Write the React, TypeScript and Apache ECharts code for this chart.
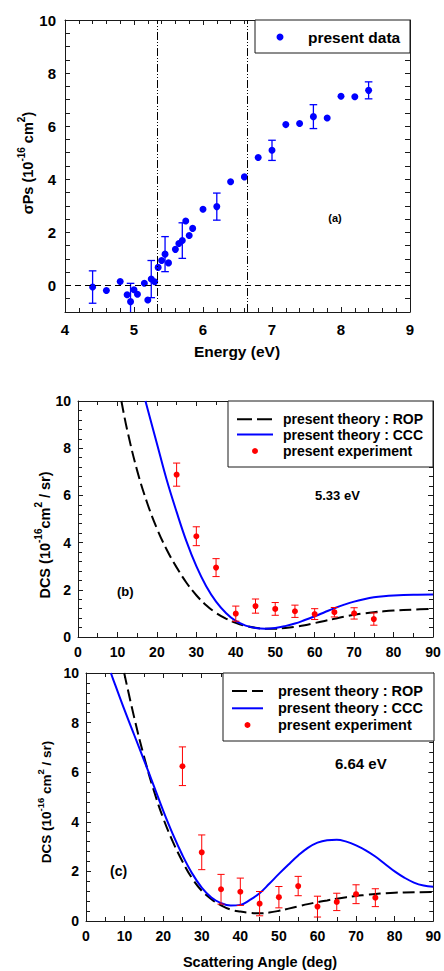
import React, { useEffect, useRef } from "react";
import * as echarts from "echarts";

const FONT = "'Liberation Sans', Arial, Helvetica, sans-serif";

// ---------- Panel (a): Ps formation cross section ----------
const energyA = [4.4, 4.6, 4.8, 4.9, 4.95, 5.0, 5.05, 5.15, 5.2, 5.25, 5.3, 5.35, 5.4, 5.45, 5.5, 5.6, 5.65, 5.7, 5.75, 5.8, 5.85, 6.0, 6.2, 6.4, 6.6, 6.8, 7.0, 7.2, 7.4, 7.6, 7.8, 8.0, 8.2, 8.4];
const sigmaA = [-0.06, -0.19, 0.15, -0.35, -0.61, -0.16, -0.33, 0.08, -0.55, 0.24, 0.14, 0.68, 0.94, 1.18, 0.85, 1.36, 1.58, 1.69, 2.43, 1.88, 2.15, 2.87, 2.97, 3.91, 4.09, 4.82, 5.09, 6.06, 6.1, 6.36, 6.31, 7.13, 7.11, 7.35];
const errA = [0.61, 0, 0, 0, 0.69, 0, 0, 0, 0, 0.7, 0, 0, 0, 0.66, 0, 0, 0, 0.67, 0, 0, 0, 0, 0.51, 0, 0, 0, 0.38, 0, 0, 0.45, 0, 0, 0, 0.32];
const markEnergies = [5.33, 6.64];

// ---------- Panels (b) and (c): DCS ----------
const anglesExp = [25, 30, 35, 40, 45, 50, 55, 60, 65, 70, 75];
const dcsB = [6.88, 4.27, 2.94, 0.99, 1.31, 1.19, 1.09, 0.97, 1.05, 1.0, 0.76];
const errB = [0.49, 0.4, 0.38, 0.32, 0.3, 0.27, 0.26, 0.23, 0.2, 0.24, 0.26];
const dcsC = [6.24, 2.77, 1.28, 1.18, 0.7, 0.96, 1.41, 0.58, 0.77, 1.08, 0.94];
const errC = [0.78, 0.7, 0.6, 0.55, 0.49, 0.43, 0.39, 0.42, 0.35, 0.38, 0.36];

const ropBAngle = [11.0, 12.5, 15, 17.5, 20, 22.5, 25, 27.5, 30, 32.5, 35, 37.5, 40, 42.5, 45, 47.5, 50, 52.5, 55, 57.5, 60, 62.5, 65, 67.5, 70, 72.5, 75, 77.5, 80, 85, 90];
const ropBValue = [10.0, 8.75, 7.05, 5.7, 4.6, 3.7, 2.95, 2.3, 1.77, 1.35, 1.02, 0.78, 0.6, 0.47, 0.39, 0.35, 0.35, 0.38, 0.43, 0.5, 0.59, 0.68, 0.77, 0.86, 0.94, 1.0, 1.05, 1.09, 1.12, 1.16, 1.19];
const cccBAngle = [17.1, 20, 22.5, 25, 27.5, 30, 32.5, 35, 37.5, 40, 42.5, 45, 47.5, 50, 52.5, 55, 57.5, 60, 62.5, 65, 67.5, 70, 72.5, 75, 77.5, 80, 85, 90];
const cccBValue = [10.0, 8.2, 6.65, 5.3, 4.05, 3.0, 2.15, 1.5, 1.02, 0.68, 0.48, 0.38, 0.35, 0.38, 0.46, 0.57, 0.72, 0.88, 1.05, 1.22, 1.37, 1.5, 1.6, 1.68, 1.73, 1.76, 1.79, 1.8];

const ropCAngle = [9.9, 12.5, 15, 17.5, 20, 22.5, 25, 27.5, 30, 32.5, 35, 37.5, 40, 42.5, 45, 47.5, 50, 52.5, 55, 57.5, 60, 62.5, 65, 67.5, 70, 72.5, 75, 77.5, 80, 85, 90];
const ropCValue = [10.0, 8.2, 6.65, 5.3, 4.15, 3.2, 2.4, 1.72, 1.22, 0.88, 0.63, 0.46, 0.38, 0.33, 0.31, 0.34, 0.41, 0.5, 0.59, 0.68, 0.76, 0.83, 0.9, 0.96, 1.01, 1.05, 1.09, 1.12, 1.14, 1.16, 1.17];
const cccCAngle = [6.45, 7.5, 10, 12.5, 15, 17.5, 20, 22.5, 25, 27.5, 30, 32.5, 35, 37.5, 40, 42.5, 45, 47.5, 50, 52.5, 55, 57.5, 60, 62.5, 65, 67.5, 70, 72.5, 75, 77.5, 80, 82.5, 85, 87.5, 90];
const cccCValue = [10.0, 9.55, 8.5, 7.5, 6.5, 5.48, 4.45, 3.5, 2.65, 1.92, 1.35, 0.95, 0.72, 0.62, 0.65, 0.85, 1.12, 1.5, 1.9, 2.28, 2.64, 2.95, 3.16, 3.26, 3.28, 3.2, 3.05, 2.85, 2.6, 2.3, 2.0, 1.75, 1.55, 1.43, 1.38];

const legendLabels = ["present theory : ROP", "present theory : CCC", "present experiment"];

const AXIS_COLOR = "#1a1a1a";
const BLUE = "#0000ff";
const RED = "#ff0000";

function zip(xs: number[], ys: number[]) {
  return xs.map((x, i) => [x, ys[i]]);
}

function errorSeries(xs: number[], ys: number[], es: number[], idx: number, color: string, width: number, half: number) {
  return {
    type: "custom",
    xAxisIndex: idx,
    yAxisIndex: idx,
    clip: true,
    silent: true,
    z: 3,
    encode: { x: 0, y: 1 },
    data: xs.map((x, i) => [x, ys[i], es[i]]).filter((d) => d[2] > 0),
    renderItem: (_p: any, api: any) => {
      const x = api.value(0);
      const y = api.value(1);
      const e = api.value(2);
      const hi = api.coord([x, y + e]);
      const lo = api.coord([x, y - e]);
      const st = { stroke: color, lineWidth: width };
      return {
        type: "group",
        children: [
          { type: "line", shape: { x1: hi[0], y1: hi[1], x2: lo[0], y2: lo[1] }, style: st },
          { type: "line", shape: { x1: hi[0] - half, y1: hi[1], x2: hi[0] + half, y2: hi[1] }, style: st },
          { type: "line", shape: { x1: lo[0] - half, y1: lo[1], x2: lo[0] + half, y2: lo[1] }, style: st },
        ],
      };
    },
  };
}

function makeAxis(
  gridIndex: number,
  position: string,
  min: number,
  max: number,
  interval: number,
  minorSplit: number,
  label: any
) {
  return {
    type: "value",
    gridIndex,
    position,
    min,
    max,
    interval,
    axisLine: { show: true, onZero: false, lineStyle: { color: AXIS_COLOR, width: 1 } },
    axisTick: { show: true, inside: true, length: 5, lineStyle: { color: AXIS_COLOR, width: 1 } },
    minorTick: { show: minorSplit > 0, splitNumber: minorSplit || 5, length: 4, lineStyle: { color: AXIS_COLOR, width: 1 } },
    splitLine: { show: false },
    minorSplitLine: { show: false },
    axisLabel: label
      ? { show: true, color: "#000", fontFamily: FONT, fontWeight: "bold", ...label }
      : { show: false },
  };
}

function supTitle(parts: [string, boolean][], fs: number, sfs: number) {
  const text = parts.map(([t, s]) => `{${s ? "s" : "n"}|${t}}`).join("");
  return {
    text,
    rich: {
      n: { fontSize: fs, fontWeight: "bold", fontFamily: FONT, fill: "#000", lineHeight: fs + 8 },
      s: { fontSize: sfs, fontWeight: "bold", fontFamily: FONT, fill: "#000", lineHeight: sfs, verticalAlign: "top" },
    },
    align: "center",
    verticalAlign: "middle",
  };
}

function txt(x: number, y: number, text: string, fs: number, align = "left") {
  return {
    type: "text",
    x,
    y,
    z: 20,
    style: { text, fontSize: fs, fontWeight: "bold", fontFamily: FONT, fill: "#000", align, verticalAlign: "middle" },
  };
}

function legendBox(x: number, y: number, w: number, h: number, rows: number[], lx1: number, lx2: number, tx: number, fs: number) {
  return [
    { type: "rect", z: 15, shape: { x, y, width: w, height: h }, style: { fill: "#fff", stroke: AXIS_COLOR, lineWidth: 1 } },
    { type: "line", z: 16, shape: { x1: lx1, y1: rows[0], x2: lx2, y2: rows[0] }, style: { stroke: "#000", lineWidth: 2, lineDash: [15, 5] } },
    { type: "line", z: 16, shape: { x1: lx1, y1: rows[1], x2: lx2, y2: rows[1] }, style: { stroke: BLUE, lineWidth: 2 } },
    { type: "circle", z: 16, shape: { cx: (lx1 + lx2) / 2, cy: rows[2], r: 3 }, style: { fill: RED } },
    txt(tx, rows[0], legendLabels[0], fs),
    txt(tx, rows[1], legendLabels[1], fs),
    txt(tx, rows[2], legendLabels[2], fs),
  ];
}

function curve(idx: number, xs: number[], ys: number[], color: string, dashed: boolean) {
  return {
    type: "line",
    xAxisIndex: idx,
    yAxisIndex: idx,
    data: zip(xs, ys),
    symbol: "none",
    smooth: 0.4,
    clip: true,
    silent: true,
    z: 2,
    lineStyle: { color, width: 2, type: dashed ? [12, 5] : "solid" },
  };
}

function dots(idx: number, xs: number[], ys: number[], color: string, size: number) {
  return {
    type: "scatter",
    xAxisIndex: idx,
    yAxisIndex: idx,
    data: zip(xs, ys),
    symbolSize: size,
    itemStyle: { color, opacity: 1 },
    z: 4,
    silent: true,
  };
}

export default function App() {
  const ref = useRef<HTMLDivElement>(null);

  useEffect(() => {
    if (!ref.current) return;
    const chart = echarts.init(ref.current, undefined, { renderer: "svg" });

    const labelA = { fontSize: 15 };
    const labelDcs = { fontSize: 14 };
    const isEven = (v: number) => {
      const r = Math.round(v * 10) / 10;
      return r >= 0 && Math.abs(r % 2) < 1e-6 ? String(r) : "";
    };

    const option: any = {
      animation: false,
      backgroundColor: "#fff",
      grid: [
        { left: 65, top: 20, width: 345, height: 292 },
        { left: 78, top: 401, width: 355, height: 236 },
        { left: 86, top: 673, width: 348, height: 248 },
      ],
      xAxis: [
        makeAxis(0, "bottom", 4, 9, 1, 5, { ...labelA, margin: 10 }),
        makeAxis(1, "bottom", 0, 90, 10, 2, { ...labelDcs, margin: 8 }),
        makeAxis(2, "bottom", 0, 90, 10, 2, { ...labelDcs, margin: 8 }),
        makeAxis(0, "top", 4, 9, 1, 5, null),
        makeAxis(1, "top", 0, 90, 10, 2, null),
        makeAxis(2, "top", 0, 90, 10, 2, null),
      ],
      yAxis: [
        makeAxis(0, "left", -1, 10, 0.5, 0, { ...labelA, margin: 9, formatter: isEven }),
        makeAxis(1, "left", 0, 10, 2, 5, { ...labelDcs, margin: 7 }),
        makeAxis(2, "left", 0, 10, 2, 5, { ...labelDcs, margin: 7 }),
        makeAxis(0, "right", -1, 10, 0.5, 0, null),
        makeAxis(1, "right", 0, 10, 2, 5, null),
        makeAxis(2, "right", 0, 10, 2, 5, null),
      ],
      series: [
        // (a)
        errorSeries(energyA, sigmaA, errA, 0, BLUE, 1.3, 3.8),
        {
          ...dots(0, energyA, sigmaA, BLUE, 7),
          markLine: {
            silent: true,
            symbol: "none",
            label: { show: false },
            data: [
              { yAxis: 0, lineStyle: { type: [6, 4], color: "#000", width: 1 } },
              ...markEnergies.map((e) => ({ xAxis: e, lineStyle: { type: [8, 2, 1, 2, 1, 2], color: "#000", width: 1 } })),
            ],
          },
        },
        // (b)
        curve(1, ropBAngle, ropBValue, "#000", true),
        curve(1, cccBAngle, cccBValue, BLUE, false),
        errorSeries(anglesExp, dcsB, errB, 1, RED, 1, 3.6),
        dots(1, anglesExp, dcsB, RED, 6),
        // (c)
        curve(2, ropCAngle, ropCValue, "#000", true),
        curve(2, cccCAngle, cccCValue, BLUE, false),
        errorSeries(anglesExp, dcsC, errC, 2, RED, 1, 3.6),
        dots(2, anglesExp, dcsC, RED, 6),
      ],
      graphic: [
        // panel (a)
        {
          type: "text",
          x: 28,
          y: 163,
          rotation: Math.PI / 2,
          style: supTitle([["σPs (10", false], ["-16", true], [" cm", false], ["2", true], [")", false]], 14.5, 10),
        },
        txt(237, 351, "Energy (eV)", 15.5, "center"),
        { type: "rect", z: 15, shape: { x: 255, y: 20, width: 155, height: 33 }, style: { fill: "#fff", stroke: AXIS_COLOR, lineWidth: 1 } },
        { type: "circle", z: 16, shape: { cx: 280, cy: 37, r: 3.5 }, style: { fill: BLUE } },
        txt(308, 37, "present data", 15.5),
        txt(335, 218, "(a)", 11, "center"),
        // panel (b)
        ...legendBox(228, 401, 205, 66, [419.3, 434.5, 451], 237, 273, 283, 14),
        txt(315, 495, "5.33 eV", 13),
        txt(117, 591, "(b)", 13),
        {
          type: "text",
          x: 45,
          y: 535,
          rotation: Math.PI / 2,
          style: supTitle([["DCS (10", false], ["-16", true], ["cm", false], ["2", true], [" / sr)", false]], 14.5, 10),
        },
        // panel (c)
        ...legendBox(223, 673, 211, 68, [691, 708.3, 725], 232, 263, 278, 14.5),
        txt(335, 763, "6.64 eV", 15),
        txt(110, 871, "(c)", 14),
        {
          type: "text",
          x: 46,
          y: 802,
          rotation: Math.PI / 2,
          style: supTitle([["DCS (10", false], ["-16", true], [" cm", false], ["2", true], [" / sr)", false]], 13.5, 9.5),
        },
        txt(260, 962, "Scattering Angle (deg)", 14.5, "center"),
      ],
    };

    chart.setOption(option);
    return () => chart.dispose();
  }, []);

  return (
    <div
      ref={ref}
      style={{ position: "fixed", left: 0, top: 0, width: 444, height: 971, background: "#fff" }}
    />
  );
}
